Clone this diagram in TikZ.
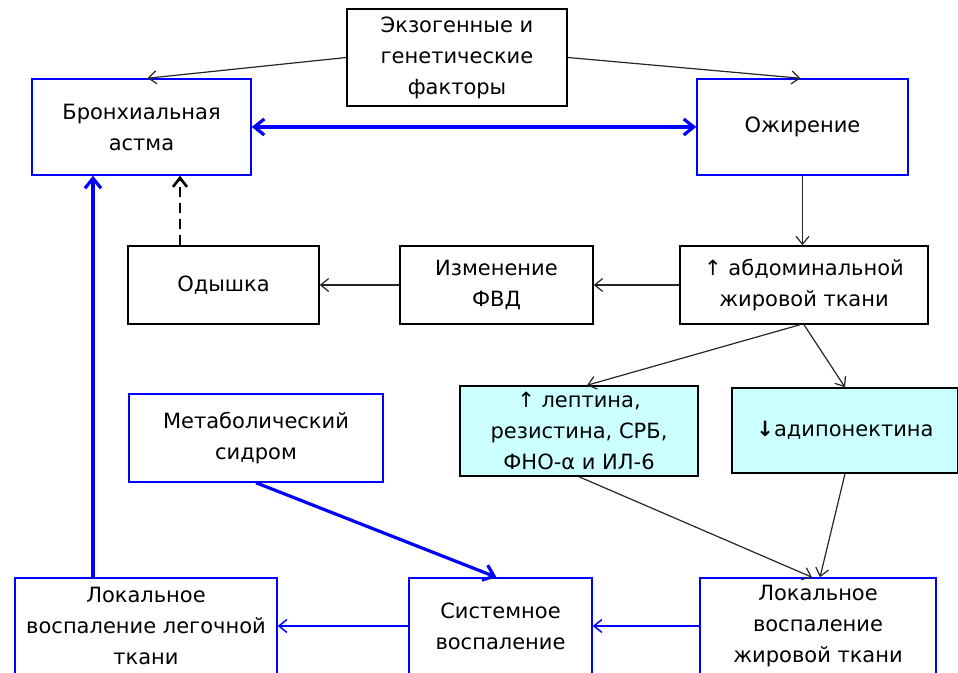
\documentclass[tikz,border=0pt]{standalone}
\usepackage{fontspec}
\setmainfont{DejaVu Sans}
\usepackage{xcolor}
\usetikzlibrary{arrows.meta}
\usetikzlibrary{positioning}
\definecolor{boxcyan}{RGB}{204,255,255}
\tikzset{>={Straight Barb[length=4pt,width=6.5pt]}}
\tikzset{
  blk/.style={rectangle,draw=black,line width=0.75pt,align=center,inner sep=2pt},
  blu/.style={rectangle,draw=blue,line width=0.75pt,align=center,inner sep=2pt},
  cyn/.style={blk,fill=boxcyan},
  thin/.style={->,line width=0.6pt,black!85},
  thick/.style={-{Straight Barb[length=5pt,width=8pt]},line width=1.6pt,blue},
}

\begin{document}
\begin{tikzpicture}[x=0.5pt,y=-0.5pt,font=\fontsize{10.5}{15.5}\selectfont]
    \clip (0,0) rectangle (958,673);
    \node at (457, 57.5) [blk,minimum width=110pt,minimum height=48.5pt] (exo) {Экзогенные и\\генетические\\факторы};
    \node at (141.5, 127) [blu,minimum width=109.5pt,minimum height=48pt] (asthma) {Бронхиальная\\астма};
    \node at (802.5, 127) [blu,minimum width=105.5pt,minimum height=48pt] (obes) {Ожирение};
    \node at (223.5, 285) [blk,minimum width=95.5pt,minimum height=39pt] (dysp) {Одышка};
    \node at (496.5, 285) [blk,minimum width=96.5pt,minimum height=39pt] (fvd) {Изменение\\ФВД};
    \node at (804, 285) [blk,minimum width=124pt,minimum height=39pt] (abdom) {↑ абдоминальной\\жировой ткани};
    \node at (579, 431) [cyn,minimum width=119pt,minimum height=45pt] (lept) {↑ лептина,\\резистина, СРБ,\\ФНО-α и ИЛ-6};
    \node at (845, 430.5) [cyn,minimum width=113pt,minimum height=42.5pt] (adipo) {\textbf{↓}адипонектина};
    \node at (256, 438) [blu,minimum width=127pt,minimum height=44pt] (metab) {Метаболический\\сидром};
    \node at (146, 626) [blu,minimum width=131pt,minimum height=48pt] (lung) {Локальное\\воспаление легочной\\ткани};
    \node at (500.5, 626) [blu,minimum width=91.5pt,minimum height=48pt] (sys) {Системное\\воспаление};
    \node at (818, 626) [blu,minimum width=118pt,minimum height=48pt] (fat) {Локальное\\воспаление\\жировой ткани};
    \draw [thin] (exo.west) to ([xshift=3pt]asthma.north);
    \draw [thin] (exo.east) to ([xshift=-1pt]obes.north);
    \draw [thick,{Straight Barb[length=5pt,width=8pt]}-{Straight Barb[length=5pt,width=8pt]}] (asthma.east) to (obes.west);
    \draw [thin] (obes.south) to (obes.south |- abdom.north);
    \draw [thin] (abdom.west) to (fvd.east);
    \draw [thin] (fvd.west) to (dysp.east);
    \draw [-{Straight Barb[length=4.5pt,width=7pt]},line width=1.3pt,dash pattern=on 5pt off 3pt] ([xshift=-21.75pt]dysp.north) to ([xshift=19.25pt]asthma.south);
    \draw [thin] ([xshift=-2pt]abdom.south) to ([xshift=4pt]lept.north);
    \draw [thin] (abdom.south) to (adipo.north);
    \draw [thin] (lept.south) to ([xshift=-3pt]fat.north);
    \draw [thin] (adipo.south) to ([xshift=1pt]fat.north);
    \draw [thick] (metab.south) to ([xshift=-2pt]sys.north);
    \draw [->,line width=0.75pt,blue] (fat.west) to (sys.east);
    \draw [->,line width=0.75pt,blue] (sys.west) to (lung.east);
    \draw [thick] ([xshift=-26.5pt]lung.north) to ([xshift=-24.25pt]asthma.south);
\end{tikzpicture}
\end{document}
